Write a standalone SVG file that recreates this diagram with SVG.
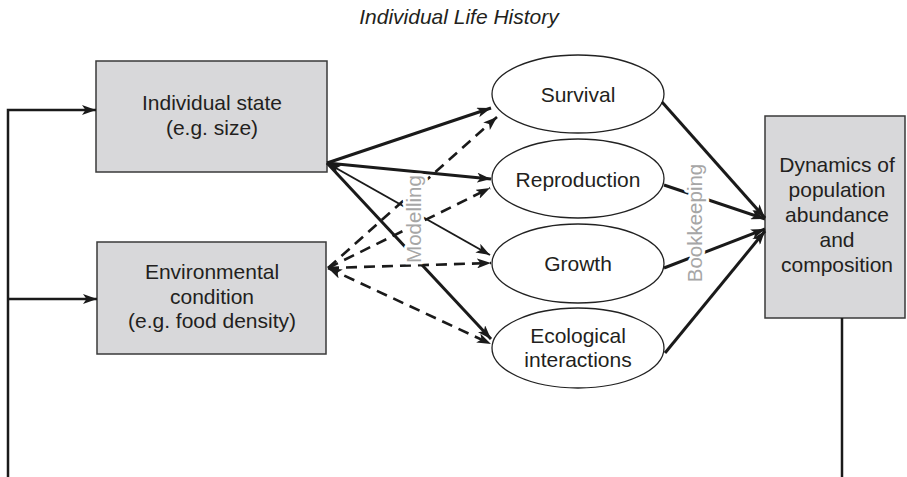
<svg xmlns="http://www.w3.org/2000/svg" width="907" height="477" viewBox="0 0 907 477">
<style>
.box{fill:#d8d8da;stroke:#3a3a3a;stroke-width:1.5}
.ell{fill:#fff;stroke:#222;stroke-width:1.3}
.t{font-family:"Liberation Sans",Arial,sans-serif;font-size:21px;fill:#231f20;text-anchor:middle}
.lbl{font-family:"Liberation Sans",Arial,sans-serif;font-size:20.5px;fill:#a6a6a6;text-anchor:middle;stroke:#fff;stroke-width:6;paint-order:stroke;stroke-linejoin:round}
.s{stroke:#1a1a1a;fill:none;stroke-width:3}
.th{stroke:#1a1a1a;fill:none;stroke-width:2}
.d{stroke:#1a1a1a;fill:none;stroke-width:2.6;stroke-dasharray:11 7}
.fb{stroke:#1a1a1a;fill:none;stroke-width:2.5}
</style>
<defs>
<marker id="ah" viewBox="0 0 14 10" markerWidth="14" markerHeight="10" refX="14" refY="5" orient="auto-start-reverse" markerUnits="userSpaceOnUse">
<path d="M0,0 L14,5 L0,10 L3.5,5 Z" fill="#1a1a1a"/>
</marker>
</defs>
<text x="459" y="24" font-family="'Liberation Sans',Arial,sans-serif" font-size="21" font-style="italic" fill="#231f20" text-anchor="middle">Individual Life History</text>
<g id="individual-state">
<rect class="box" x="96" y="61" width="231" height="111"/>
<text class="t" x="212" y="110">Individual state</text>
<text class="t" x="212" y="135">(e.g. size)</text>
</g>
<g id="environmental-condition">
<rect class="box" x="97" y="242" width="229" height="112"/>
<text class="t" x="212" y="279">Environmental</text>
<text class="t" x="212" y="304">condition</text>
<text class="t" x="212" y="328">(e.g. food density)</text>
</g>
<g id="survival">
<ellipse class="ell" cx="578" cy="94" rx="86" ry="39"/>
<text class="t" x="578" y="101.5">Survival</text>
</g>
<g id="reproduction">
<ellipse class="ell" cx="578" cy="178.5" rx="86" ry="39.5"/>
<text class="t" x="578" y="186.5">Reproduction</text>
</g>
<g id="growth">
<ellipse class="ell" cx="578" cy="263.5" rx="86" ry="39.5"/>
<text class="t" x="578" y="270.5">Growth</text>
</g>
<g id="ecological-interactions">
<ellipse class="ell" cx="578" cy="348" rx="86" ry="40"/>
<text class="t" x="578" y="342.5">Ecological</text>
<text class="t" x="578" y="366.5">interactions</text>
</g>
<g id="population-dynamics">
<rect class="box" x="765" y="116" width="140" height="202"/>
<text class="t" x="837" y="172">Dynamics of</text>
<text class="t" x="837" y="197">population</text>
<text class="t" x="837" y="222">abundance</text>
<text class="t" x="837" y="247">and</text>
<text class="t" x="837" y="272">composition</text>
</g>
<g id="connectors">
<polyline class="fb" points="842,318 842,477"/>
<polyline class="fb" points="8,477 8,110 96,110" marker-end="url(#ah)"/>
<line class="fb" x1="8" y1="299" x2="97" y2="299" marker-end="url(#ah)"/>
<line class="s" x1="327" y1="163" x2="491" y2="108" marker-end="url(#ah)"/>
<line class="s" x1="327" y1="163" x2="491" y2="179" marker-end="url(#ah)"/>
<line class="th" x1="327" y1="163" x2="490" y2="255" marker-start="url(#ah)" marker-end="url(#ah)"/>
<line class="s" x1="327" y1="163" x2="491" y2="339" marker-end="url(#ah)"/>
<line class="d" x1="328" y1="268" x2="497" y2="117" marker-end="url(#ah)"/>
<line class="d" x1="328" y1="268" x2="490" y2="188" marker-end="url(#ah)"/>
<line class="d" x1="328" y1="268" x2="491" y2="263" marker-end="url(#ah)"/>
<line class="d" x1="328" y1="268" x2="491" y2="344" marker-start="url(#ah)" marker-end="url(#ah)"/>
<line class="s" x1="662" y1="102" x2="765" y2="218" marker-end="url(#ah)"/>
<line class="s" x1="664" y1="185" x2="765" y2="219" marker-end="url(#ah)"/>
<line class="s" x1="664" y1="268" x2="765" y2="229" marker-end="url(#ah)"/>
<line class="s" x1="665" y1="353" x2="765" y2="231" marker-end="url(#ah)"/>
</g>
<text class="lbl" transform="translate(421,219) rotate(-90)">Modelling</text>
<text class="lbl" transform="translate(702,223) rotate(-90)">Bookkeeping</text>
</svg>
